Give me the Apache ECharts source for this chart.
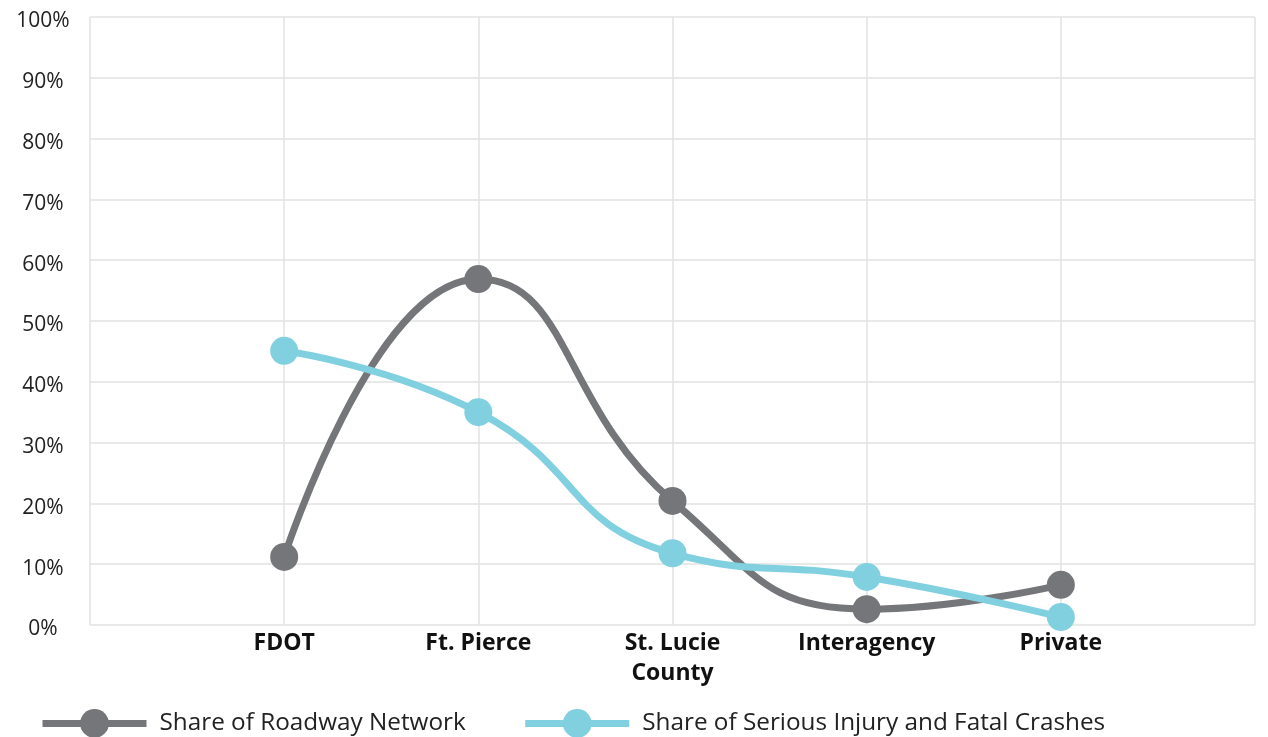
<!DOCTYPE html>
<html>
<head>
<meta charset="utf-8">
<script src="https://cdn.jsdelivr.net/npm/echarts@6/dist/echarts.min.js"></script>
<style>
html,body{margin:0;padding:0;background:#fff;}
#chart{width:1268px;height:737px;}
</style>
</head>
<body>
<div id="chart"></div>
<script>
const categories = ['', 'FDOT', 'Ft. Pierce', 'St. Lucie\nCounty', 'Interagency', 'Private', ''];
const roadwayShare = [null, 11.2, 56.9, 20.4, 2.6, 6.6, null];
const crashShare = [null, 45.1, 35.0, 11.8, 7.9, 1.3, null];
const seriesNames = ['Share of Roadway Network', 'Share of Serious Injury and Fatal Crashes'];

const chart = echarts.init(document.getElementById('chart'));
const font = '"Open Sans", "Noto Sans", sans-serif';
chart.setOption({
  animation: false,
  backgroundColor: '#ffffff',
  grid: { left: 90, right: 13, top: 17, bottom: 112, containLabel: false },
  legend: {
    left: 34,
    top: 704,
    itemWidth: 104,
    itemHeight: 36,
    itemGap: 56,
    lineStyle: { width: 7 },
    textStyle: { fontFamily: font, fontSize: 24.3, color: '#222', padding: [0, 0, 4, 8] },
    data: seriesNames
  },
  xAxis: {
    type: 'category',
    data: categories,
    boundaryGap: false,
    axisLine: { show: false },
    axisTick: { show: false },
    splitLine: { show: true, lineStyle: { color: '#e2e2e2', width: 1.5 } },
    axisLabel: {
      interval: 0,
      margin: 3,
      fontFamily: font,
      fontSize: 23,
      fontWeight: 'bold',
      color: '#111',
      lineHeight: 30
    }
  },
  yAxis: {
    type: 'value',
    min: 0,
    max: 100,
    interval: 10,
    axisLine: { show: false },
    axisTick: { show: false },
    splitLine: { show: true, lineStyle: { color: '#e2e2e2', width: 1.5 } },
    axisLabel: {
      formatter: '{value}%',
      align: 'center',
      verticalAlign: 'top',
      lineHeight: 9,
      margin: 47,
      fontFamily: font,
      fontSize: 21,
      color: '#222'
    }
  },
  series: [
    {
      name: seriesNames[0],
      type: 'line',
      data: roadwayShare,
      smooth: 0.5,
      symbol: 'circle',
      symbolSize: 28,
      lineStyle: { color: '#757679', width: 7 },
      itemStyle: { color: '#757679' },
      z: 2
    },
    {
      name: seriesNames[1],
      type: 'line',
      data: crashShare,
      smooth: 0.5,
      symbol: 'circle',
      symbolSize: 28,
      lineStyle: { color: '#80d0e0', width: 7 },
      itemStyle: { color: '#80d0e0' },
      z: 3
    }
  ]
});
</script>
</body>
</html>
